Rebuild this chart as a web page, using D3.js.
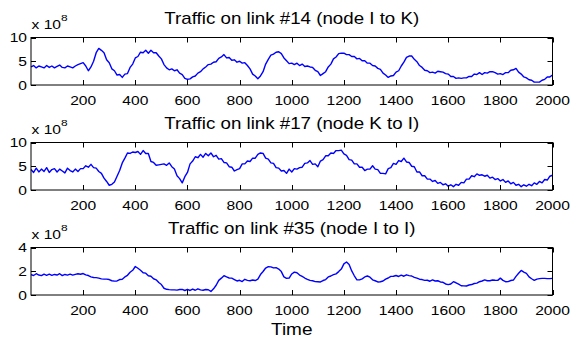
<!DOCTYPE html>
<html>
<head>
<meta charset="utf-8">
<script src="https://cdn.jsdelivr.net/npm/d3@7/dist/d3.min.js"></script>
<style>
  html, body { margin: 0; padding: 0; background: #fff; }
  svg { display: block; }
  text { font-family: "Liberation Sans", Arial, Helvetica, sans-serif; fill: #000; }
</style>
</head>
<body>
<svg id="chart" width="571" height="339"></svg>
<script>
// Sample grid (time units between stored samples)
const sampleStep = 10;
const timeMax = 2000;

// Panel titles
const titles = [
  "Traffic on link #14 (node I to K)",
  "Traffic on link #17 (node K to I)",
  "Traffic on link #35 (node I to I)"
];

// Traffic in units of 1e8, one value every 10 time units from 0 to 2000
const link14 = [
  3.8,4.1,3.6,4.0,3.8,3.6,4.1,3.7,4.0,3.6,3.9,4.2,3.7,3.6,4.0,3.8,3.6,4.0,4.3,4.5,
  4.7,4.0,3.0,3.8,5.0,6.8,7.7,7.3,6.8,5.3,4.7,3.4,3.0,2.1,2.2,1.6,2.3,2.4,3.7,4.4,
  5.7,6.0,6.9,6.8,7.3,6.7,7.3,6.8,6.8,6.1,5.5,4.3,3.6,3.2,3.4,3.0,3.2,2.5,2.2,1.4,
  1.2,1.3,1.7,1.9,2.5,2.8,3.4,3.8,4.3,4.4,4.8,4.9,5.6,5.9,6.4,5.7,5.8,5.2,5.3,4.8,
  5.0,4.6,4.7,4.1,3.4,2.3,1.9,1.3,1.9,2.8,4.4,5.4,6.3,6.5,6.9,7.0,6.6,5.7,5.1,4.5,
  4.6,4.3,4.6,4.1,4.4,3.9,4.0,3.8,3.7,3.1,2.8,2.0,2.4,2.8,3.8,4.4,5.5,5.9,6.6,6.7,
  6.7,6.4,6.4,6.0,6.0,5.5,5.6,5.1,5.1,4.6,4.6,4.1,4.0,3.5,3.3,2.5,2.1,1.6,1.9,2.0,
  2.7,3.0,4.0,4.8,5.8,6.1,6.1,5.4,4.9,4.1,3.7,3.1,3.0,2.6,2.7,2.5,2.9,2.8,2.7,2.4,
  2.3,1.8,1.8,1.4,1.5,1.4,1.5,1.5,1.8,1.8,2.3,2.2,2.6,2.2,2.6,2.5,2.8,2.8,2.6,2.3,
  2.4,2.2,2.6,2.6,3.1,3.2,3.5,2.7,2.3,1.7,1.5,1.1,1.0,0.6,0.6,0.6,1.0,1.2,1.7,1.7,
  2.1
];

const link17 = [
  4.3,3.7,4.6,3.8,4.4,3.9,4.7,3.7,4.3,4.5,3.8,4.4,4.0,3.6,4.6,4.1,3.8,4.4,3.9,4.5,
  4.5,5.1,4.8,5.4,4.7,4.6,3.9,3.5,2.5,1.8,1.0,1.2,1.7,2.9,4.1,5.7,6.7,7.8,7.7,8.0,
  7.9,8.1,7.5,8.3,7.7,7.7,6.0,5.8,5.2,5.3,5.4,5.5,5.2,5.7,4.9,4.4,3.0,2.4,1.5,2.8,
  3.7,5.5,6.1,7.0,6.8,7.5,6.9,7.7,7.2,7.8,7.0,7.3,6.5,6.6,5.8,5.7,4.9,4.8,4.0,4.3,
  4.5,5.5,5.5,6.1,6.0,6.7,6.7,7.5,7.8,7.7,6.7,6.5,5.7,5.6,4.7,4.6,4.0,4.1,3.5,4.4,
  3.8,4.5,4.4,4.7,4.8,5.6,5.7,6.2,5.4,5.5,4.9,6.1,6.4,7.2,7.2,7.8,7.7,8.3,8.3,8.4,
  7.6,7.3,6.4,6.3,5.5,5.5,4.8,4.8,4.1,4.4,4.4,5.1,4.4,4.3,3.5,3.5,3.4,4.5,4.7,5.6,
  5.4,6.2,6.0,6.7,5.9,5.8,5.0,4.9,3.8,3.8,3.0,3.0,2.3,2.3,1.8,2.0,1.4,1.6,1.1,1.3,
  0.8,1.1,0.7,1.2,1.0,1.6,1.5,2.3,2.3,3.0,2.8,3.4,3.1,3.2,2.9,3.1,2.5,2.7,2.2,2.4,
  1.9,2.2,1.6,1.9,1.3,1.6,1.0,1.2,0.7,1.1,0.8,1.2,0.9,1.5,1.2,1.8,1.5,2.2,2.1,2.9,
  3.1
];

const link35 = [
  1.72,1.64,1.79,1.68,1.63,1.76,1.66,1.75,1.65,1.73,1.68,1.79,1.63,1.73,1.67,1.76,1.67,1.74,1.79,1.75,
  1.81,1.70,1.64,1.53,1.47,1.46,1.42,1.36,1.34,1.34,1.30,1.20,1.17,1.18,1.30,1.33,1.52,1.66,1.92,2.08,
  2.40,2.25,2.08,1.87,1.84,1.62,1.58,1.37,1.28,1.05,0.88,0.57,0.48,0.45,0.43,0.43,0.41,0.46,0.47,0.38,
  0.48,0.38,0.50,0.40,0.52,0.43,0.40,0.46,0.44,0.30,0.52,0.82,1.23,1.42,1.63,1.52,1.43,1.42,1.30,1.18,
  1.24,1.13,1.32,1.23,1.20,1.26,1.22,1.33,1.72,1.98,2.27,2.38,2.37,2.28,2.30,2.18,1.97,1.53,1.40,1.43,
  1.77,1.93,1.87,1.68,1.57,1.43,1.32,1.23,1.20,1.13,1.12,1.10,1.22,1.30,1.52,1.60,1.72,1.78,1.97,2.18,
  2.62,2.78,2.57,2.03,1.62,1.28,1.27,1.36,1.52,1.60,1.50,1.28,1.20,1.10,1.12,1.18,1.34,1.43,1.57,1.58,
  1.64,1.56,1.67,1.58,1.70,1.63,1.60,1.48,1.42,1.33,1.30,1.23,1.24,1.16,1.27,1.18,1.20,1.10,1.07,0.93,
  0.87,0.93,1.12,1.03,0.92,0.78,0.77,0.76,0.84,0.88,0.97,1.00,1.12,1.18,1.27,1.20,1.20,1.26,1.24,1.23,
  1.42,1.23,1.12,1.13,1.22,1.26,1.57,1.83,2.07,1.93,1.82,1.53,1.37,1.24,1.34,1.38,1.40,1.40,1.38,1.38,
  1.40
];

// Axis ranges and tick labels
const yMaxes = [10, 10, 4];
const yTicks = [[0, 5, 10], [0, 5, 10], [0, 2, 4]];
const xTicks = [200, 400, 600, 800, 1000, 1200, 1400, 1600, 1800, 2000];
const exponentLabel = "8";
const xAxisLabel = "Time";

const seriesList = [link14, link17, link35];

// ---- layout ----
const svg = d3.select("#chart");
const plotLeft = 31, plotRight = 552.5;
const panelTops = [37.5, 142.5, 247.5];
const panelHeight = 47.5;
const tickLen = 5;
const textStretch = 1.2;

const x = d3.scaleLinear().domain([0, timeMax]).range([plotLeft, plotRight]);

function label(g, px, py, str, size, anchor, sx) {
  return g.append("text")
    .attr("transform", `translate(${px},${py}) scale(${sx},1)`)
    .attr("text-anchor", anchor)
    .style("font-size", size + "px")
    .text(str);
}

seriesList.forEach((values, i) => {
  const top = panelTops[i];
  const bottom = top + panelHeight;
  const y = d3.scaleLinear().domain([0, yMaxes[i]]).range([bottom, top]);
  const g = svg.append("g");

  // data trace
  const line = d3.line()
    .x((d, k) => x(k * sampleStep))
    .y(d => y(d));
  g.append("path")
    .datum(values)
    .attr("d", line)
    .attr("fill", "none")
    .attr("stroke", "#0000ff")
    .attr("stroke-width", 1.4)
    .attr("stroke-linejoin", "round");

  // inward ticks on all four sides
  const ax = g.append("g").attr("stroke", "#000").attr("stroke-width", 1);
  xTicks.forEach(t => {
    const px = Math.round(x(t)) + 0.5;
    ax.append("line").attr("x1", px).attr("x2", px).attr("y1", bottom).attr("y2", bottom - tickLen);
    ax.append("line").attr("x1", px).attr("x2", px).attr("y1", top).attr("y2", top + tickLen);
  });
  yTicks[i].forEach(v => {
    const py = Math.round(y(v)) + 0.5;
    ax.append("line").attr("x1", plotLeft).attr("x2", plotLeft + tickLen).attr("y1", py).attr("y2", py);
    ax.append("line").attr("x1", plotRight).attr("x2", plotRight - tickLen).attr("y1", py).attr("y2", py);
  });

  // axes box
  g.append("rect")
    .attr("x", plotLeft).attr("y", top)
    .attr("width", plotRight - plotLeft).attr("height", panelHeight)
    .attr("fill", "none").attr("stroke", "#000").attr("stroke-width", 1);

  // tick labels
  xTicks.forEach(t => label(g, x(t), bottom + 19.5, String(t), 13, "middle", textStretch));
  yTicks[i].forEach(v => label(g, 27, y(v) + 4.8, String(v), 13, "end", textStretch));

  // multiplier label
  const mult = label(g, plotLeft + 0.5, top - 9, "", 12.5, "start", 1.25);
  mult.append("tspan").text("x 10");
  mult.append("tspan").attr("dy", -8).style("font-size", "9.5px").text(exponentLabel);

  // title
  label(g, (plotLeft + plotRight) / 2, top - 14, titles[i], 16, "middle", 1.17);
});

label(svg, (plotLeft + plotRight) / 2, 335, xAxisLabel, 17, "middle", 1.12);
</script>
</body>
</html>
